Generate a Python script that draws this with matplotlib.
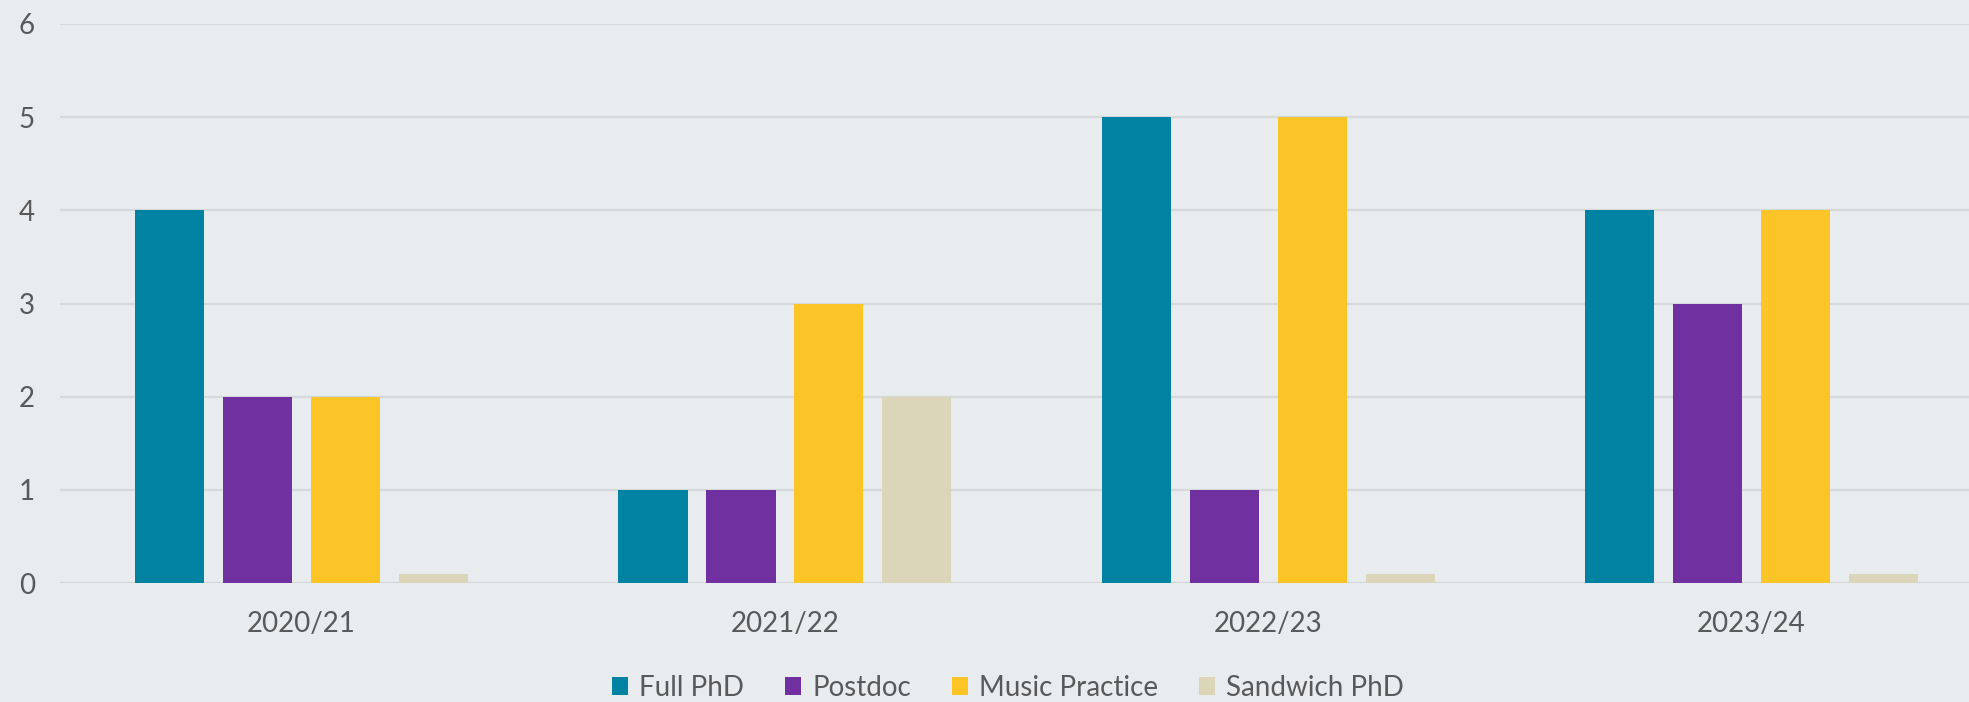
import matplotlib.pyplot as plt
import numpy as np

years = ["2020/21", "2021/22", "2022/23", "2023/24"]
series = ["Full PhD", "Postdoc", "Music Practice", "Sandwich PhD"]
full_phd = [4, 1, 5, 4]
postdoc = [2, 1, 1, 3]
music_practice = [2, 3, 5, 4]
sandwich_phd = [0.1, 2, 0.1, 0.1]
colors = ["#0083A3", "#7030A0", "#FBC527", "#DBD5BA"]

bg = "#E8ECEF"
text_color = "#595959"

plt.rcParams['font.family'] = ['Lato', 'DejaVu Sans']

fig = plt.figure(figsize=(19.69, 7.02), dpi=100, facecolor=bg)
ax = fig.add_axes([60 / 1969, 119 / 702, 1 - 60 / 1969, 559 / 702])
ax.set_facecolor(bg)

x = np.arange(len(years))
width = 0.143
stride = 0.182
values = [full_phd, postdoc, music_practice, sandwich_phd]
for i, (name, vals) in enumerate(zip(series, values)):
    ax.bar(x + (i - 1.5) * stride, vals, width, color=colors[i], label=name, zorder=3)

ax.set_ylim(0, 6)
ax.set_xlim(-0.5, 3.45)
ax.set_yticks(range(7))
ax.set_xticks(x)
ax.set_xticklabels(years)
ax.grid(axis='y', color="#D6D9DC", linewidth=1.6, zorder=0)
ax.axhline(0, color="#D3D5D7", linewidth=2.2, zorder=2)
for s in ax.spines.values():
    s.set_visible(False)
ax.tick_params(axis='both', length=0, labelsize=20, colors=text_color)
ax.tick_params(axis='x', pad=20)
ax.tick_params(axis='y', pad=18)

leg = fig.legend(loc='center', bbox_to_anchor=(1008 / 1969, 14 / 702), ncol=4,
                 frameon=False, fontsize=20, handlelength=0.6, handleheight=0.6,
                 handletextpad=0.4, columnspacing=1.45, labelcolor=text_color)

fig.savefig("out.png", dpi=100, facecolor=bg)
